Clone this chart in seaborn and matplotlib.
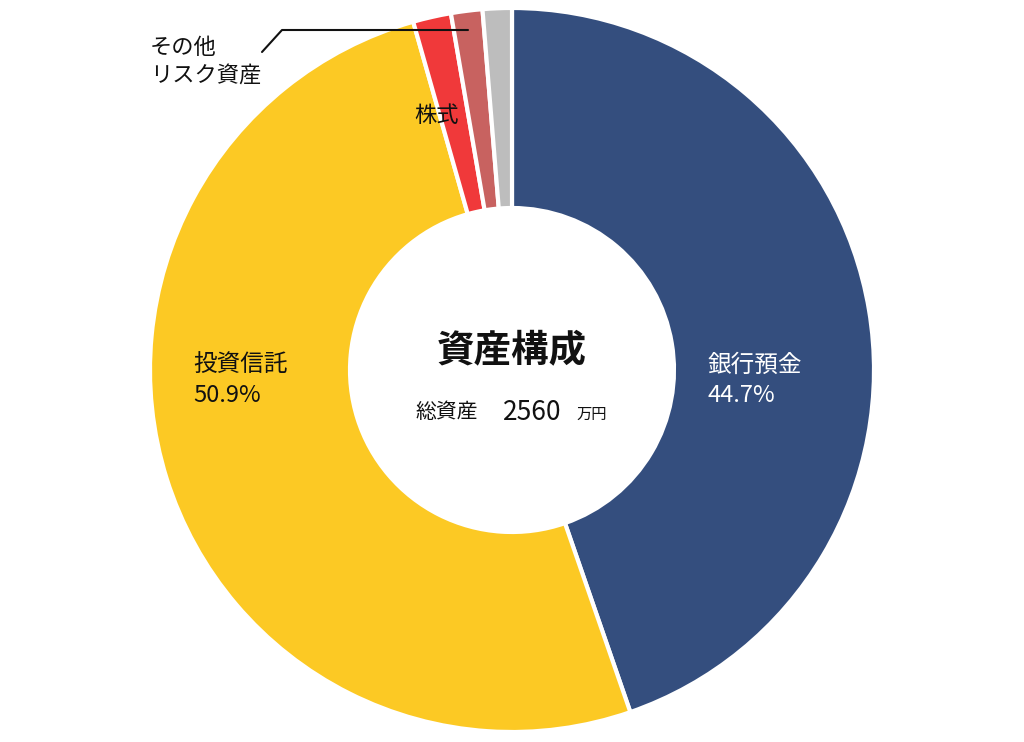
import matplotlib
matplotlib.use("Agg")
import matplotlib.pyplot as plt
import seaborn as sns

sns.set_theme(style="white")
plt.rcParams["font.family"] = "Noto Sans CJK JP"

categories = ["銀行預金", "投資信託", "株式", "その他リスク資産", "その他"]
values = [44.7, 50.9, 1.7, 1.4, 1.3]
colors = ["#344E7E", "#FCC924", "#F0393A", "#C86260", "#BDBDBD"]

W, H = 1024, 742
fig = plt.figure(figsize=(W/100, H/100), dpi=100)
R = 362
cx, cy = 512, 370
ax = fig.add_axes([(cx-R)/W, (H-cy-R)/H, 2*R/W, 2*R/H])
ax.pie(values, colors=colors, startangle=90, counterclock=False,
       radius=1, wedgeprops=dict(width=1-162/R, edgecolor="white", linewidth=3))
ax.set_xlim(-1, 1); ax.set_ylim(-1, 1)
ax.set_aspect("equal"); ax.axis("off")

def ft(x, y, s, size, **kw):
    fig.text(x/W, 1-y/H, s, fontsize=size, **kw)

ft(512, 350, "資産構成", 27, ha="center", va="center", weight="bold", color="#111")
ft(478, 412, "総資産", 15, ha="right", va="center", color="#111")
ft(532, 412, "2560", 19, ha="center", va="center", color="#111")
ft(576, 414, "万円", 11, ha="left", va="center", color="#111")
ft(707, 380, "銀行預金\n44.7%", 17, ha="left", va="center", color="white", linespacing=1.4)
ft(193, 380, "投資信託\n50.9%", 17, ha="left", va="center", color="#111", linespacing=1.4)
ft(437, 115, "株式", 16, ha="center", va="center", color="#111")
ft(150, 62, "その他\nリスク資産", 16, ha="left", va="center", color="#111", linespacing=1.3)
fig.add_artist(plt.Line2D([262/W, 282/W, 468/W], [1-52/H, 1-30/H, 1-30/H],
                          color="#111", lw=1.5, transform=fig.transFigure))
fig.savefig("out.png", dpi=100, facecolor="white")
